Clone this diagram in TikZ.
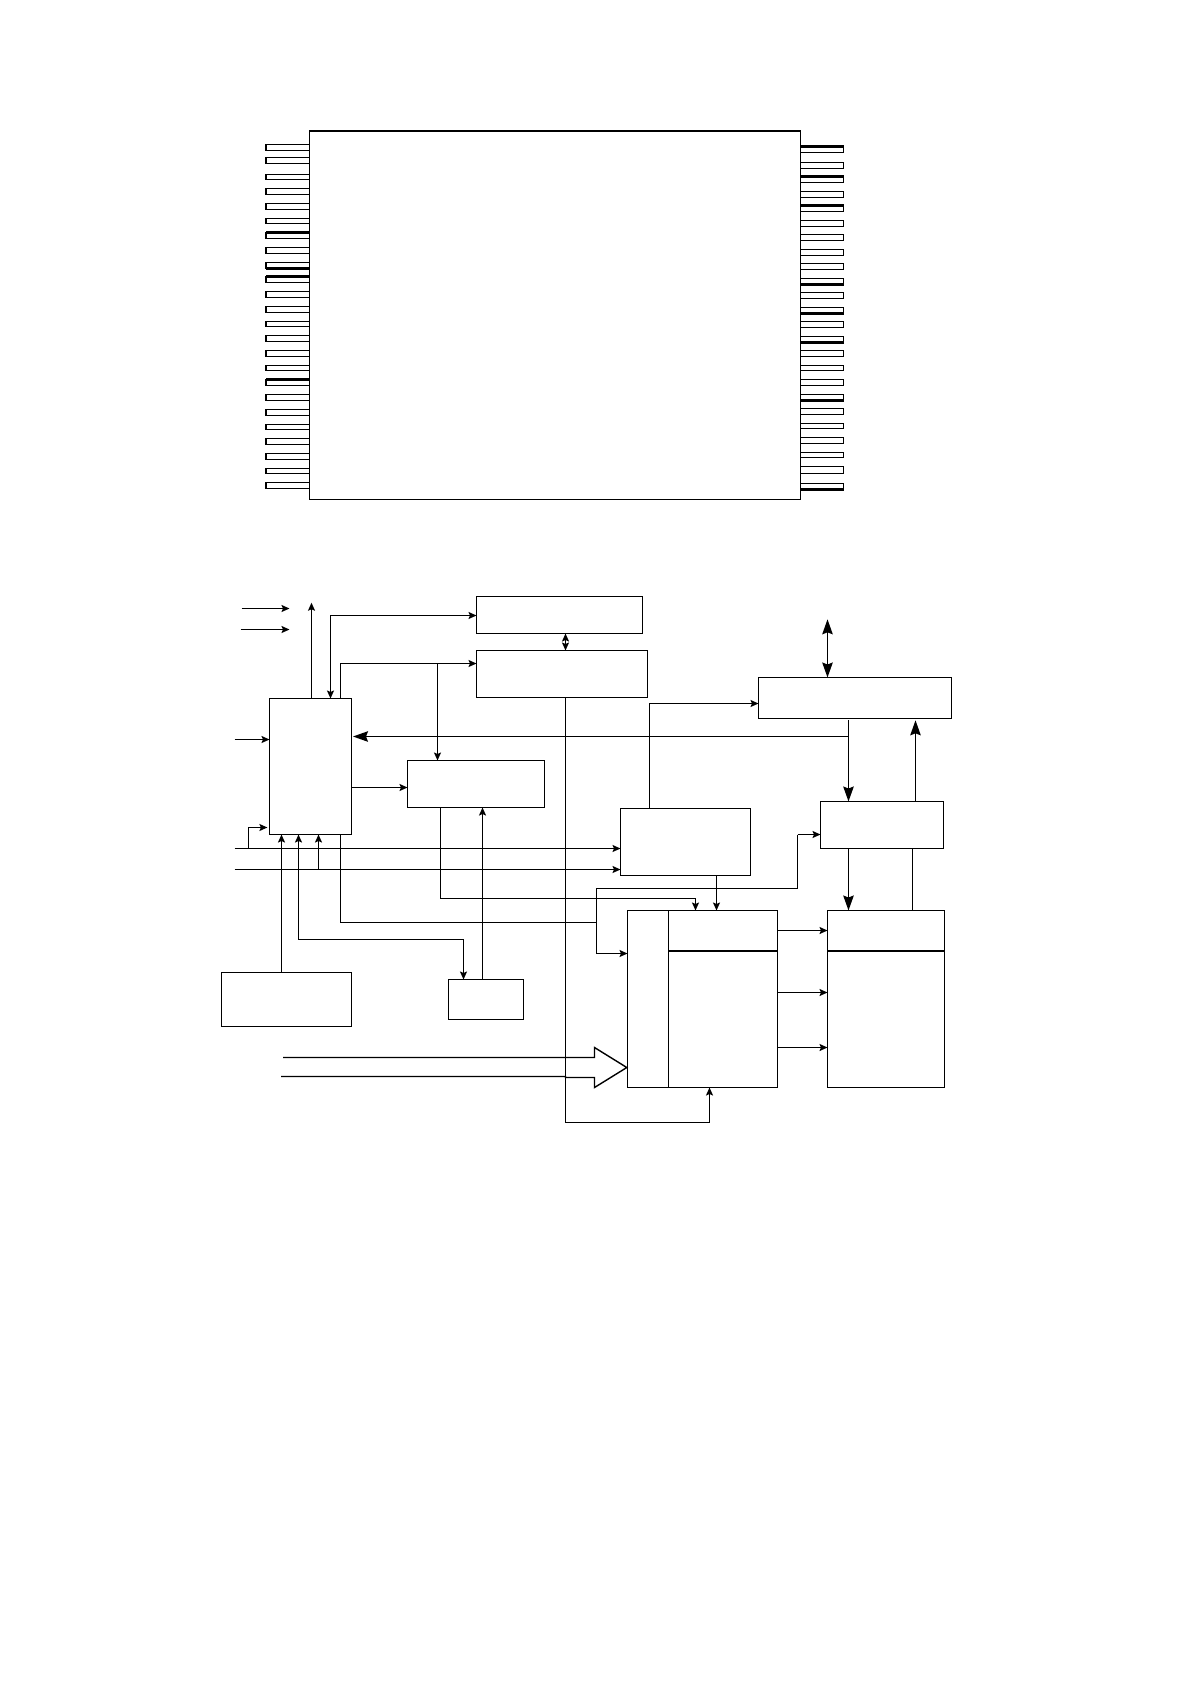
\documentclass[tikz,border=0pt]{standalone}
\usetikzlibrary{arrows.meta}
\tikzset{
  wire/.style={line width=1.4pt,draw=black,line join=miter},
  sm/.style={wire,-{Stealth[length=8pt,width=7pt,inset=1.5pt]}},
  smboth/.style={wire,{Stealth[length=8pt,width=7pt,inset=1.5pt]}-{Stealth[length=8pt,width=7pt,inset=1.5pt]}},
  big/.style={wire,-{Stealth[length=15pt,width=10.5pt,inset=2pt]}},
  bigboth/.style={wire,{Stealth[length=15pt,width=10.5pt,inset=2pt]}-{Stealth[length=15pt,width=10.5pt,inset=2pt]}},
  blk/.style={draw=black,line width=1.4pt,fill=none,rectangle,inner sep=0pt,outer sep=0pt},
  pin/.style={draw=black,line width=1.4pt},
  heavy/.style={draw=black,line width=2.2pt},
  headline/.style={draw=black,line width=2.2pt}
}
\newcommand{\blkbox}[5]{\node[blk,minimum width={(#4-#2)*1pt},minimum height={(#5-#3)*1pt}] (#1) at ({(#2+#4)/2},{(#3+#5)/2}) {};}
\begin{document}
\begin{tikzpicture}[x=1pt,y=-1pt]
\useasboundingbox (0,0) rectangle (1191,1684);
% package
\blkbox{chip}{309.5}{130.5}{800.5}{499.5}
\draw[line width=2pt] (chip.north west) -- (chip.north east);
\foreach \t/\b/\f in {144.3/150.7/0,157.7/163.3/0,174/179.7/0,188.3/194.7/0,203/209.7/0,218.3/223.7/0,232.7/238.7/1,247/253.3/0,262.3/268.3/2,276.3/282.3/1,291.3/297.3/0,306.3/312.3/0,321.3/326.7/0,335.7/341.3/0,350.3/356.3/0,365.3/370.3/0,379.7/385.3/1,394.3/400.3/0,409.3/415.3/0,424/429.7/0,438.3/444.3/0,453.3/459.3/0,468/473.3/0,482.3/488.3/0}{
  \pgfmathsetmacro\tp{floor(\t)+0.5}
  \pgfmathsetmacro\bt{floor(\b)+0.5}
  \draw[pin] (309.5,\tp) -- (266,\tp) -- (266,\bt) -- (309.5,\bt);
  \draw[draw=black,line width=2pt] (266,\tp) -- (266,\bt);
  \ifnum\f=1 \draw[heavy] (266,\tp) -- (309.5,\tp); \fi
  \ifnum\f=2 \draw[heavy] (266,\bt) -- (309.5,\bt); \fi
}
\foreach \t/\b/\f in {146.7/152.3/1,162.7/168.3/0,176.7/182.3/1,191.7/197.3/0,205.7/211.3/1,220.7/226.3/0,234.7/240.3/0,249.7/255.3/0,263.7/269.3/0,278.7/284.3/2,292.7/298.3/0,307.7/313.3/2,321.7/327.3/0,336.7/342.3/2,350.7/356.3/0,365.3/370.7/0,379.7/385.3/0,394.3/400.3/2,408.7/414.3/0,423.3/428.3/0,437.3/443.3/0,452.3/457.3/0,466.7/473/0,483.7/489.3/2}{
  \pgfmathsetmacro\tp{floor(\t)+0.5}
  \pgfmathsetmacro\bt{floor(\b)+0.5}
  \draw[pin] (800.5,\tp) -- (843.5,\tp) -- (843.5,\bt) -- (800.5,\bt);
  \ifnum\f=1 \draw[heavy] (800.5,\tp) -- (843.5,\tp); \fi
  \ifnum\f=2 \draw[heavy] (800.5,\bt) -- (843.5,\bt); \fi
}
% blocks
\blkbox{A}{476.5}{596.5}{642.5}{633.5}
\blkbox{B}{476.5}{650.5}{647.5}{697.5}
\blkbox{C}{269.5}{698.5}{351.5}{834.5}
\blkbox{D}{407.5}{760.5}{544.5}{807.5}
\blkbox{E}{620.5}{808.5}{750.5}{875.5}
\blkbox{F}{758.5}{677.5}{951.5}{718.5}
\blkbox{G}{820.5}{801.5}{943.5}{848.5}
\blkbox{H}{627.5}{910.5}{777.5}{1087.5}
\blkbox{I}{827.5}{910.5}{944.5}{1087.5}
\blkbox{J}{221.5}{972.5}{351.5}{1026.5}
\blkbox{K}{448.5}{979.5}{523.5}{1019.5}
% inner lines of H and I
\draw[wire] (668.5,0 |- H.north) -- (668.5,0 |- H.south);
\draw[headline] (668.5,951) -- (H.east |- 0,951);
\draw[headline] (I.west |- 0,951) -- (I.east |- 0,951);
% free ends
\coordinate (i1) at (241.5,608.5);
\coordinate (i1e) at (289.5,608.5);
\coordinate (i2) at (240.5,629.5);
\coordinate (i2e) at (289.5,629.5);
\coordinate (up) at (311.5,602.7);
\coordinate (i3) at (234.5,739.5);
\coordinate (i4) at (234.5,848.5);
\coordinate (i5) at (234.5,869.5);
\coordinate (loopst) at (248.5,848.5);
\coordinate (io) at (827.5,619.3);
\coordinate (i6) at (283,1057.5);
\coordinate (i7) at (281,1076.5);
\coordinate (bbot) at (565.5,1122.5);
% connectors
\draw[sm] (i1) -- (i1e);
\draw[sm] (i2) -- (i2e);
\draw[sm] (311.5,0 |- C.north) -- (up);
\draw[smboth] (A.west |- 0,615.5) -- (330.5,615.5) -- (330.5,0 |- C.north);
\draw[sm] (340.5,0 |- C.north) -- (340.5,663.5) -- (B.west |- 0,663.5);
\draw[sm] (437.5,663.5) -- (437.5,0 |- D.north);
\draw[sm] (i3) -- (C.west |- i3);
\draw[big,shorten >=1.5pt] (848.5,736.5) -- (C.east |- 0,736.5);
\draw[big] (848.5,720.3) -- (848.5,0 |- G.north);
\draw[sm] (C.east |- 0,787.5) -- (D.west |- 0,787.5);
\draw[sm] (loopst) -- (248.5,827.5) -- (267.4,827.5);
\draw[sm] (i4) -- (E.west |- i4);
\draw[sm] (i5) -- (E.west |- i5);
\draw[sm] (281.5,0 |- J.north) -- (281.5,0 |- C.south);
\draw[sm] (318.5,869.5) -- (318.5,0 |- C.south);
\draw[smboth] (298.5,0 |- C.south) -- (298.5,939.5) -- (463.5,939.5) -- (463.5,0 |- K.north);
\draw[sm] (482.5,0 |- K.north) -- (482.5,0 |- D.south);
\draw[sm] (440.5,0 |- D.south) -- (440.5,898.5) -- (695.5,898.5) -- (695.5,0 |- H.north);
\draw[wire] (340.5,0 |- C.south) -- (340.5,922.5) -- (596.5,922.5);
\draw[sm] (797.5,834.5) -- (G.west |- 0,834.5);
\draw[wire] (797.5,834.5) -- (797.5,888.5) -- (596.5,888.5) -- (596.5,953.5);
\draw[sm] (596.5,953.5) -- (H.west |- 0,953.5);
\draw[sm] (716.5,0 |- E.south) -- (716.5,0 |- H.north);
\draw[sm] (649.5,0 |- E.north) -- (649.5,703.5) -- (F.west |- 0,703.5);
\draw[sm] (565.5,0 |- B.south) -- (bbot) -- (709.5,0 |- bbot) -- (709.5,0 |- H.south);
\draw[smboth] (565.5,0 |- A.south) -- (565.5,0 |- B.north);
\draw[bigboth] (io) -- (827.5,0 |- F.north);
\draw[big] (915.5,0 |- G.north) -- (915.5,720.3);
\draw[big] (848.5,0 |- G.south) -- (848.5,0 |- I.north);
\draw[wire] (912.5,0 |- G.south) -- (912.5,0 |- I.north);
\draw[sm] (H.east |- 0,930.5) -- (I.west |- 0,930.5);
\draw[sm] (H.east |- 0,992.5) -- (I.west |- 0,992.5);
\draw[sm] (H.east |- 0,1047.5) -- (I.west |- 0,1047.5);
% hollow bus arrow
\draw[wire] (i6) -- (594.5,1057.5) -- (594.5,1047.5) -- (626.8,1067.5) -- (594.5,1087.5) -- (594.5,1077.5) -- (565.5,1077.5) -- (565.5,1076.5) -- (i7);
\end{tikzpicture}
\end{document}
